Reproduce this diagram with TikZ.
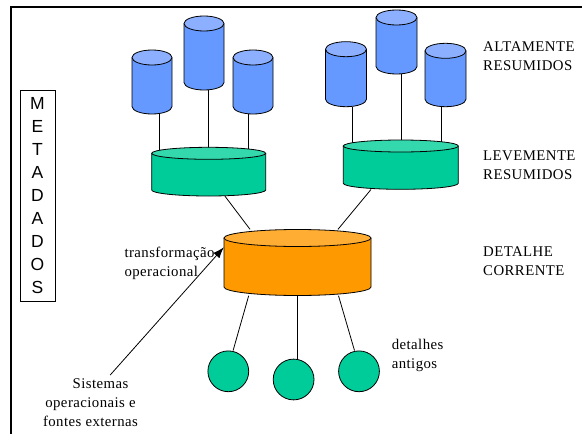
\documentclass[tikz,border=0pt]{standalone}
\usepackage{fontspec}
\setmainfont{Liberation Serif}
\newfontfamily\lblfont{Liberation Serif}[LetterSpace=3]
\newfontfamily\metafont{Liberation Sans}
\usetikzlibrary{arrows.meta,calc,backgrounds}

\definecolor{dbblue}{HTML}{6699FF}
\definecolor{dbbluetop}{HTML}{8CB0FF}
\definecolor{dbgreen}{HTML}{00CC99}
\definecolor{dbgreentop}{HTML}{33D9AD}
\definecolor{dborange}{HTML}{FF9900}
\definecolor{dborangetop}{HTML}{FFAD33}

% database drum: #1 name, #2 centre x, #3 lid centre y, #4 base centre y,
% #5 x radius, #6 y radius, #7 body colour, #8 lid colour
\newcommand\dbcyl[8]{%
  \fill[#7] (#2-#5,#3) -- (#2-#5,#4)
    arc[start angle=180,end angle=0,x radius=#5,y radius=#6] -- (#2+#5,#3) -- cycle;
  \draw[cylline] (#2-#5,#3) -- (#2-#5,#4)
    arc[start angle=180,end angle=0,x radius=#5,y radius=#6] -- (#2+#5,#3);
  \filldraw[cylline,fill=#8] (#2,#3) ellipse[x radius=#5,y radius=#6];
  \node[inner sep=0pt,minimum width={2*#5pt},minimum height={(#4-#3+2*#6)*1pt}]
    (#1) at (#2,{(#3+#4)/2}) {};
}

\begin{document}
\begin{tikzpicture}[x=1pt,y=-1pt,
  cylline/.style={draw=black,line width=0.8pt},
  conn/.style={draw=black,line width=0.8pt},
  lbl/.style={inner sep=0pt,font=\lblfont\fontsize{14.8}{18.8}\selectfont,align=left,anchor=base west},
  oldbox/.style={circle,draw=black,line width=0.8pt,fill=dbgreen,inner sep=0pt,minimum size=40.8pt}]
\useasboundingbox (0,0) rectangle (582,434);

% highly summarised data
\dbcyl{La}{152}{57.5}{106.5}{20}{7.5}{dbblue}{dbbluetop}
\dbcyl{Lb}{204}{23.5}{82.5}{20}{7.5}{dbblue}{dbbluetop}
\dbcyl{Lc}{253}{57.5}{106.5}{20}{7.5}{dbblue}{dbbluetop}
\dbcyl{Ra}{346}{49.2}{99.2}{20.5}{7.5}{dbblue}{dbbluetop}
\dbcyl{Rb}{396.5}{17.5}{66.5}{20.5}{7.5}{dbblue}{dbbluetop}
\dbcyl{Rc}{445.5}{50.8}{99.2}{20.5}{7.5}{dbblue}{dbbluetop}

% lightly summarised data
\dbcyl{Ga}{208.7}{153.3}{190}{57}{6}{dbgreen}{dbgreentop}
\dbcyl{Gb}{400.8}{146}{183.3}{57.5}{6}{dbgreen}{dbgreentop}

% current detail
\dbcyl{O}{297.5}{238}{287}{73.5}{8.5}{dborange}{dborangetop}

% old detail
\node[oldbox] (Ca) at (228.3,371.3) {};
\node[oldbox] (Cb) at (293.6,379.5) {};
\node[oldbox] (Cc) at (359,371.3) {};

\begin{scope}[on background layer]
  \draw[conn] ([xshift=7.6pt]La.south) -- ([xshift=7.6pt]La.south |- Ga.center);
  \draw[conn] ([xshift=3.9pt]Lb.south) -- ([xshift=3.9pt]Lb.south |- Ga.center);
  \draw[conn] ([xshift=-4.3pt]Lc.south) -- ([xshift=-4.3pt]Lc.south |- Ga.center);
  \draw[conn] ([xshift=6pt]Ra.south) -- ([xshift=6pt]Ra.south |- Gb.center);
  \draw[conn] ([xshift=4.5pt]Rb.south) -- ([xshift=4.5pt]Rb.south |- Gb.center);
  \draw[conn] ([xshift=-3.8pt]Rc.south) -- ([xshift=-3.8pt]Rc.south |- Gb.center);
  \draw[conn] ([xshift=16.3pt]Ga.south) -- ([xshift=-47.5pt]O.north);
  \draw[conn] ([xshift=-29.8pt]Gb.south) -- ([xshift=40.5pt]O.north);
  \draw[conn] ([xshift=-48.8pt]O.south) -- ([xshift=4.8pt]Ca.north);
  \draw[conn] (O.south) -- (O.south |- Cb.center);
  \draw[conn] ([xshift=41pt]O.south) -- ([xshift=-4.5pt]Cc.north);
\end{scope}

% labels (placed by the baseline of their last line)
\node[lbl] (alt) at (483,70) {ALTAMENTE\\RESUMIDOS};
\node[lbl] (lev) at (483,179.3) {LEVEMENTE\\RESUMIDOS};
\node[lbl] (det) at (483,275.7) {DETALHE\\CORRENTE};
\node[lbl] (trf) at (124.3,276.5) {transformação\\operacional};
\node[lbl] (ant) at (391.6,368.5) {detalhes\\antigos};
\node[lbl,align=center,anchor=base] (sis) at (90.5,426.5) {\hspace*{20pt}Sistemas\\operacionais e\\fontes externas};

% external sources feed the operational transformation
\coordinate (src) at (110.2,375);
\draw[conn,-{Latex[length=11pt,width=8pt]}] (src) -- ([yshift=15.2pt]O.west);

% metadata column
\node[draw=black,line width=0.8pt,minimum width=35pt,minimum height=211pt,inner sep=0pt,
      align=center,font=\metafont\fontsize{17.5}{22.9}\selectfont] (meta) at (37.5,195.5)
  {M\\E\\T\\A\\D\\A\\D\\O\\S};

% page frame
\coordinate (fb) at (11,434);
\coordinate (fc) at (11,7);
\coordinate (fr) at (583,7);
\draw[line width=2.5pt] (fb) -- (fc) -- (fr);
\end{tikzpicture}
\end{document}
